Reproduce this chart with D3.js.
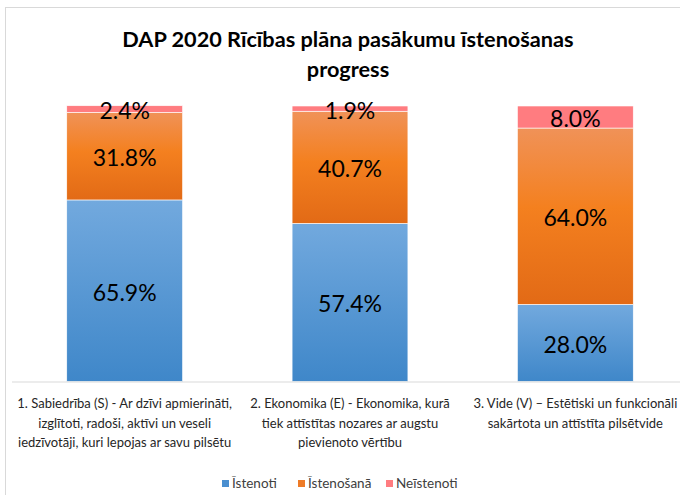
<!DOCTYPE html>
<html>
<head>
<meta charset="utf-8">
<script src="https://cdn.jsdelivr.net/npm/d3@7"></script>
<style>
  body { margin: 0; background: #fff; }
  svg { display: block; font-family: Lato, "Open Sans", sans-serif; }
</style>
</head>
<body>
<script>
// chart data
var categories = ["S", "E", "V"];
var categoryLines = [
    ["1. Sabiedrība (S) - Ar dzīvi apmierināti,", "izglītoti, radoši, aktīvi un veseli", "iedzīvotāji, kuri lepojas ar savu pilsētu"],
    ["2. Ekonomika (E) - Ekonomika, kurā", "tiek attīstītas nozares ar augstu", "pievienoto vērtību"],
    ["3. Vide (V) – Estētiski un funkcionāli", "sakārtota un attīstīta pilsētvide"]
];
var seriesNames = ["Īstenoti", "Īstenošanā", "Neīstenoti"];
var istenoti = [65.9, 57.4, 28.0];
var istenosana = [31.8, 40.7, 64.0];
var neistenoti = [2.4, 1.9, 8.0];
var titleLines = ["DAP 2020 Rīcības plāna pasākumu īstenošanas", "progress"];

var width = 680,
    height = 495;

var svg = d3.select("body").append("svg")
    .attr("width", width)
    .attr("height", height);

// gradients, lighter at the top like the original
var defs = svg.append("defs");
var gradStops = [
    [["0%", "#72a9de"], ["100%", "#3f87c9"]],
    [["0%", "#f09258"], ["45%", "#f4801f"], ["100%", "#e26a16"]],
    [["0%", "#ff7c80"], ["100%", "#ff7c80"]]
];
var legendColors = ["#4a8fd0", "#ee7b27", "#ff7c80"];
gradStops.forEach(function(stops, i) {
    var g = defs.append("linearGradient")
        .attr("id", "grad" + i)
        .attr("x1", 0).attr("y1", 0).attr("x2", 0).attr("y2", 1);
    stops.forEach(function(s) {
        g.append("stop").attr("offset", s[0]).attr("stop-color", s[1]);
    });
});

// outer frame (right and bottom edges fall outside the picture)
svg.append("rect")
    .attr("x", 5.5).attr("y", 7.5)
    .attr("width", 700).attr("height", 520)
    .attr("fill", "none")
    .attr("stroke", "#d9d9d9");

// title
svg.append("g").selectAll("text")
    .data(titleLines)
    .enter().append("text")
    .attr("x", 348)
    .attr("y", function(d, i) { return 47 + i * 30; })
    .attr("text-anchor", "middle")
    .attr("font-size", 21.7)
    .attr("font-weight", "bold")
    .attr("fill", "#000")
    .text(function(d) { return d; });

// scales
var x = d3.scaleBand()
    .domain(categories)
    .range([12, 688])
    .paddingInner(0.486)
    .paddingOuter(0.243);

var y = d3.scaleLinear()
    .domain([0, 100])
    .range([381.5, 106]);

// stack the three series
var rows = categories.map(function(c, i) {
    return { cat: c, s0: istenoti[i], s1: istenosana[i], s2: neistenoti[i] };
});
var stacked = d3.stack().keys(["s0", "s1", "s2"])(rows);

var layer = svg.append("g").selectAll("g")
    .data(stacked)
    .enter().append("g")
    .attr("fill", function(d, i) { return "url(#grad" + i + ")"; });

layer.selectAll("rect")
    .data(function(d) { return d; })
    .enter().append("rect")
    .attr("x", function(d) { return x(d.data.cat); })
    .attr("y", function(d) { return y(d[1]); })
    .attr("width", x.bandwidth())
    .attr("height", function(d) { return y(d[0]) - y(d[1]); })
    .attr("stroke", "#fff")
    .attr("stroke-width", 0.6);

// data labels
layer.selectAll("text")
    .data(function(d) { return d.map(function(p) { return { p: p, key: d.key }; }); })
    .enter().append("text")
    .attr("x", function(d) { return x(d.p.data.cat) + x.bandwidth() / 2; })
    .attr("y", function(d) { return (y(d.p[0]) + y(d.p[1])) / 2 + 10; })
    .attr("text-anchor", "middle")
    .attr("font-size", 23)
    .attr("fill", "#000")
    .text(function(d) { return d3.format(".1f")(d.p.data[d.key]) + "%"; });

// x axis
var xAxis = svg.append("g")
    .attr("transform", "translate(0," + y(0) + ")")
    .call(d3.axisBottom(x).tickSize(0).tickFormat(""));
xAxis.select(".domain").attr("stroke", "#d9d9d9").attr("d", "M12,0.5H688");

var labels = svg.append("g").selectAll("text")
    .data(categories)
    .enter().append("text")
    .attr("x", function(d) { return x(d) + x.bandwidth() / 2; })
    .attr("text-anchor", "middle")
    .attr("font-size", 13)
    .attr("fill", "#262626");
labels.each(function(d, i) {
    d3.select(this).selectAll("tspan")
        .data(categoryLines[i])
        .enter().append("tspan")
        .attr("x", x(d) + x.bandwidth() / 2)
        .attr("y", function(l, j) { return 408 + j * 19.5; })
        .text(function(l) { return l; });
});

// legend
var legendX = [222, 298, 386];
var legend = svg.append("g").selectAll("g")
    .data(seriesNames)
    .enter().append("g")
    .attr("transform", function(d, i) { return "translate(" + legendX[i] + ",480)"; });
legend.append("rect")
    .attr("width", 7).attr("height", 7)
    .attr("fill", function(d, i) { return legendColors[i]; });
legend.append("text")
    .attr("x", 10)
    .attr("y", 8)
    .attr("font-size", 13.5)
    .attr("fill", "#404040")
    .text(function(d) { return d; });
</script>
</body>
</html>
